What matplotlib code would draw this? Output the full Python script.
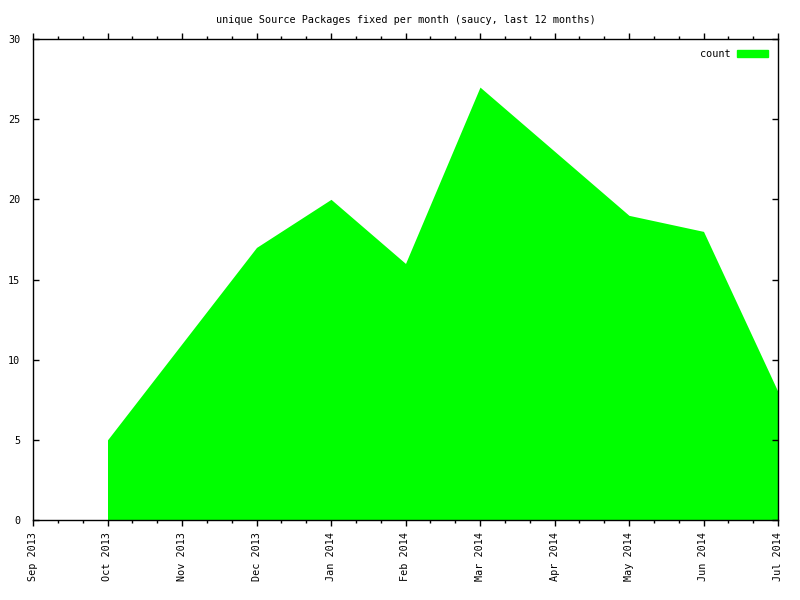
import matplotlib
matplotlib.use("Agg")
import matplotlib.pyplot as plt
from matplotlib.patches import Patch
from matplotlib.ticker import MultipleLocator

# data
months = ["Sep 2013", "Oct 2013", "Nov 2013", "Dec 2013", "Jan 2014", "Feb 2014",
          "Mar 2014", "Apr 2014", "May 2014", "Jun 2014", "Jul 2014"]
data_months = months[1:]
counts = [5, 11, 17, 20, 16, 27, 23, 19, 18, 8]

green = "#00ff00"
fs = 7.3
plt.rcParams["font.family"] = ["DejaVu Sans Mono"]
plt.rcParams["font.size"] = fs

fig = plt.figure(figsize=(8, 6), dpi=100)
ax = fig.add_axes([33 / 800, 80 / 600, 745 / 800, 481 / 600])

x = [months.index(m) for m in data_months]
ax.fill_between(x, 0, counts, color=green, linewidth=0)

ax.set_xlim(0, len(months) - 1)
ax.set_ylim(0, 30)
ax.set_xticks(range(len(months)))
ax.set_xticklabels(months, rotation=90)
ax.xaxis.set_minor_locator(MultipleLocator(1 / 3))
ax.set_yticks(range(0, 31, 5))

ax.tick_params(axis="x", which="both", direction="out", top=True, bottom=True)
ax.tick_params(axis="x", which="major", length=4, width=1, labelsize=fs, pad=4.5)
ax.tick_params(axis="x", which="minor", length=2.5, width=1)
ax.tick_params(axis="y", which="major", direction="in", left=True, right=True,
               length=4, width=1, labelsize=fs, pad=9)
for s in ax.spines.values():
    s.set_linewidth(1)

ax.set_title("unique Source Packages fixed per month (saucy, last 12 months)",
             fontsize=fs, pad=11.5)

ax.legend(handles=[Patch(color=green, label="count")], loc="upper right",
          frameon=False, markerfirst=False, fontsize=fs,
          handlelength=3.0, handleheight=0.8, handletextpad=0.7,
          borderaxespad=0.4, borderpad=0.6)

fig.savefig("out.png", dpi=100)
